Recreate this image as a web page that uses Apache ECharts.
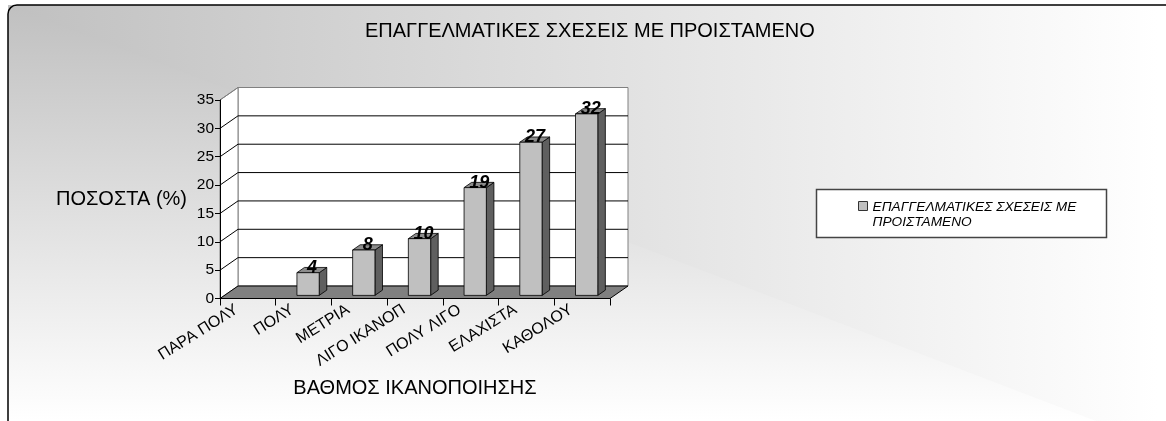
<!DOCTYPE html>
<html>
<head>
<meta charset="utf-8">
<script src="https://cdn.jsdelivr.net/npm/echarts@6/dist/echarts.min.js"></script>
<style>html,body{margin:0;padding:0;background:#fff}#c{width:1166px;height:421px}</style>
</head>
<body>
<div id="c"></div>
<script>
const chartTitle = 'ΕΠΑΓΓΕΛΜΑΤΙΚΕΣ ΣΧΕΣΕΙΣ ΜΕ ΠΡΟΙΣΤΑΜΕΝΟ';
const seriesName = 'ΕΠΑΓΓΕΛΜΑΤΙΚΕΣ ΣΧΕΣΕΙΣ ΜΕ ΠΡΟΙΣΤΑΜΕΝΟ';
const categories = ['ΠΑΡΑ ΠΟΛΥ', 'ΠΟΛΥ', 'ΜΕΤΡΙΑ', 'ΛΙΓΟ ΙΚΑΝΟΠ', 'ΠΟΛΥ ΛΙΓΟ', 'ΕΛΑΧΙΣΤΑ', 'ΚΑΘΟΛΟΥ'];
const values = [null, 4, 8, 10, 19, 27, 32];
const yTicks = [0, 5, 10, 15, 20, 25, 30, 35];
const yAxisName = 'ΠΟΣΟΣΤΑ (%)';
const xAxisName = 'ΒΑΘΜΟΣ ΙΚΑΝΟΠΟΙΗΣΗΣ';

const FONT = 'Liberation Sans, Arial, sans-serif';
const DX = 18, DY = -12.5;           // 3D depth of the plot box
const BAR_FRONT = 0.25, BAR_DEPTH = 0.42, BAR_W = 0.4;

const chart = echarts.init(document.getElementById('c'), null, {renderer: 'canvas'});

// background: "from corner" gradient, value = max(x/W, y/H)
const BX = 8, BY = 5, BW = 1150, BH = 415;
const g0 = '#c0c0c0', g1 = '#ffffff';

function wallsItem(params, api) {
  const cs = params.coordSys;
  const t = api.value(1);
  const y = api.coord([0, t])[1];
  const children = [];
  const yMax = yTicks[yTicks.length - 1];
  if (params.dataIndex === 0) {
    children.push({type: 'rect', shape: {x: cs.x + DX, y: cs.y + DY, width: cs.width, height: cs.height},
      style: {fill: '#ffffff', stroke: '#808080', lineWidth: 1}});
    children.push({type: 'polygon', shape: {points: [[cs.x, cs.y], [cs.x + DX, cs.y + DY], [cs.x + DX, cs.y + cs.height + DY], [cs.x, cs.y + cs.height]]},
      style: {fill: '#ffffff', stroke: '#808080', lineWidth: 1}});
  }
  if (t > 0) {
    children.push({type: 'polyline', shape: {points: [[cs.x, y], [cs.x + DX, y + DY], [cs.x + DX + cs.width, y + DY]]},
      style: {fill: null, stroke: t === yMax ? '#808080' : '#000000', lineWidth: 1}});
  } else {
    children.push({type: 'polygon', shape: {points: [[cs.x, y], [cs.x + cs.width, y], [cs.x + cs.width + DX, y + DY], [cs.x + DX, y + DY]]},
      style: {fill: '#808080', stroke: '#000000', lineWidth: 1}});
  }
  return {type: 'group', children};
}

function barItem(params, api) {
  const v = api.value(1);
  if (v == null || isNaN(v)) return null;
  const i = api.value(0);
  const c0 = api.coord([i, 0]);
  const cv = api.coord([i, v]);
  const catW = api.size([1, 0])[0];
  const w = catW * BAR_W;
  const cx = c0[0] + DX * BAR_FRONT;
  const x1 = cx - w / 2, x2 = cx + w / 2;
  const yb = c0[1] + DY * BAR_FRONT, yt = cv[1] + DY * BAR_FRONT;
  const ddx = DX * BAR_DEPTH, ddy = DY * BAR_DEPTH;
  const st = {stroke: '#000000', lineWidth: 0.8};
  return {type: 'group', children: [
    {type: 'polygon', shape: {points: [[x2, yt], [x2 + ddx, yt + ddy], [x2 + ddx, yb + ddy], [x2, yb]]}, style: Object.assign({fill: '#5f5f5f'}, st)},
    {type: 'polygon', shape: {points: [[x1, yt], [x1 + ddx, yt + ddy], [x2 + ddx, yt + ddy], [x2, yt]]}, style: Object.assign({fill: '#8c8c8c'}, st)},
    {type: 'rect', shape: {x: x1, y: yt, width: w, height: yb - yt}, style: Object.assign({fill: '#c0c0c0'}, st)},
    {type: 'text', style: {text: String(v), x: cx + 4, y: yt + 4, align: 'center', verticalAlign: 'bottom',
      font: 'italic bold 18px ' + FONT, fill: '#000000'}}
  ]};
}

const gradStops = [{offset: 0, color: g0}, {offset: 1, color: g1}];
const option = {
  animation: false,
  textStyle: {fontFamily: FONT},
  graphic: [
    {type: 'rect', z: -10, silent: true,
     shape: {x: BX, y: BY, width: BW + 40, height: BH + 40},
     style: {fill: {type: 'linear', x: BX, y: 0, x2: BX + BW, y2: 0, global: true, colorStops: gradStops}}},
    {type: 'polygon', z: -10, silent: true,
     shape: {points: [[BX, BY], [BX, BY + BH + 40], [BX + BW + 40, BY + BH + 40]]},
     style: {fill: {type: 'linear', x: 0, y: BY, x2: 0, y2: BY + BH, global: true, colorStops: gradStops}}},
    {type: 'rect', z: -9, silent: true, shape: {x: BX, y: BY, width: 1200, height: 460, r: [9, 0, 0, 0]},
     style: {fill: null, stroke: '#000000', lineWidth: 1.5}},
    {type: 'rect', z: -8, silent: true, shape: {x: 816.5, y: 189.5, width: 290, height: 48},
     style: {fill: '#ffffff', stroke: '#444444', lineWidth: 1.5}}
  ],
  title: {
    text: chartTitle, left: 365, top: 21, padding: 0,
    textStyle: {fontSize: 20, fontWeight: 'normal', color: '#000', fontFamily: FONT}
  },
  legend: {
    data: [seriesName], left: 858, top: 182, padding: 0,
    icon: 'rect', itemWidth: 9, itemHeight: 9,
    itemStyle: {color: '#c0c0c0', borderColor: '#333333', borderWidth: 1},
    formatter: n => {
      const k = n.indexOf(' ΠΡΟΙΣΤΑΜΕΝΟ');
      return '{s| }\n{t|' + n.slice(0, k) + '}\n{t|' + n.slice(k + 1) + '}';
    },
    textStyle: {
      fontSize: 13.7, fontStyle: 'italic', color: '#000', lineHeight: 15, fontFamily: FONT,
      rich: {
        s: {fontSize: 4, lineHeight: 18},
        t: {fontSize: 13.7, fontStyle: 'italic', color: '#000', lineHeight: 15, fontFamily: FONT}
      }
    }
  },
  grid: {left: 220, top: 100, width: 390, height: 198.5, containLabel: false},
  xAxis: {
    type: 'category', data: categories, z: 4,
    name: xAxisName, nameLocation: 'middle', nameGap: 80,
    nameTextStyle: {fontSize: 20, color: '#000', fontFamily: FONT},
    axisLine: {lineStyle: {color: '#000', width: 1}},
    axisTick: {show: true, length: 7, interval: 0, lineStyle: {color: '#000'}},
    axisLabel: {interval: 0, rotate: 32, margin: 3, fontSize: 16, color: '#000', padding: [0, 13, 0, 0], fontFamily: FONT},
    splitLine: {show: false}
  },
  yAxis: {
    type: 'value', min: 0, max: 35, interval: 5, z: 4,
    name: yAxisName, nameLocation: 'middle', nameRotate: 0, nameGap: 33,
    nameTextStyle: {fontSize: 20, color: '#000', fontFamily: FONT},
    axisLine: {show: true, lineStyle: {color: '#000', width: 1}},
    axisTick: {show: true, length: 5, lineStyle: {color: '#000'}},
    axisLabel: {fontSize: 15.5, color: '#000', margin: 6, fontFamily: FONT},
    splitLine: {show: false}
  },
  series: [
    {type: 'custom', name: '__walls', z: 1, clip: false, silent: true,
     data: yTicks.map(t => [0, t]), encode: {x: 0, y: 1}, renderItem: wallsItem},
    {type: 'custom', name: seriesName, z: 3, clip: false,
     itemStyle: {color: '#c0c0c0'},
     data: values.map((v, i) => [i, v]), encode: {x: 0, y: 1}, renderItem: barItem}
  ]
};
chart.setOption(option);
</script>
</body>
</html>
